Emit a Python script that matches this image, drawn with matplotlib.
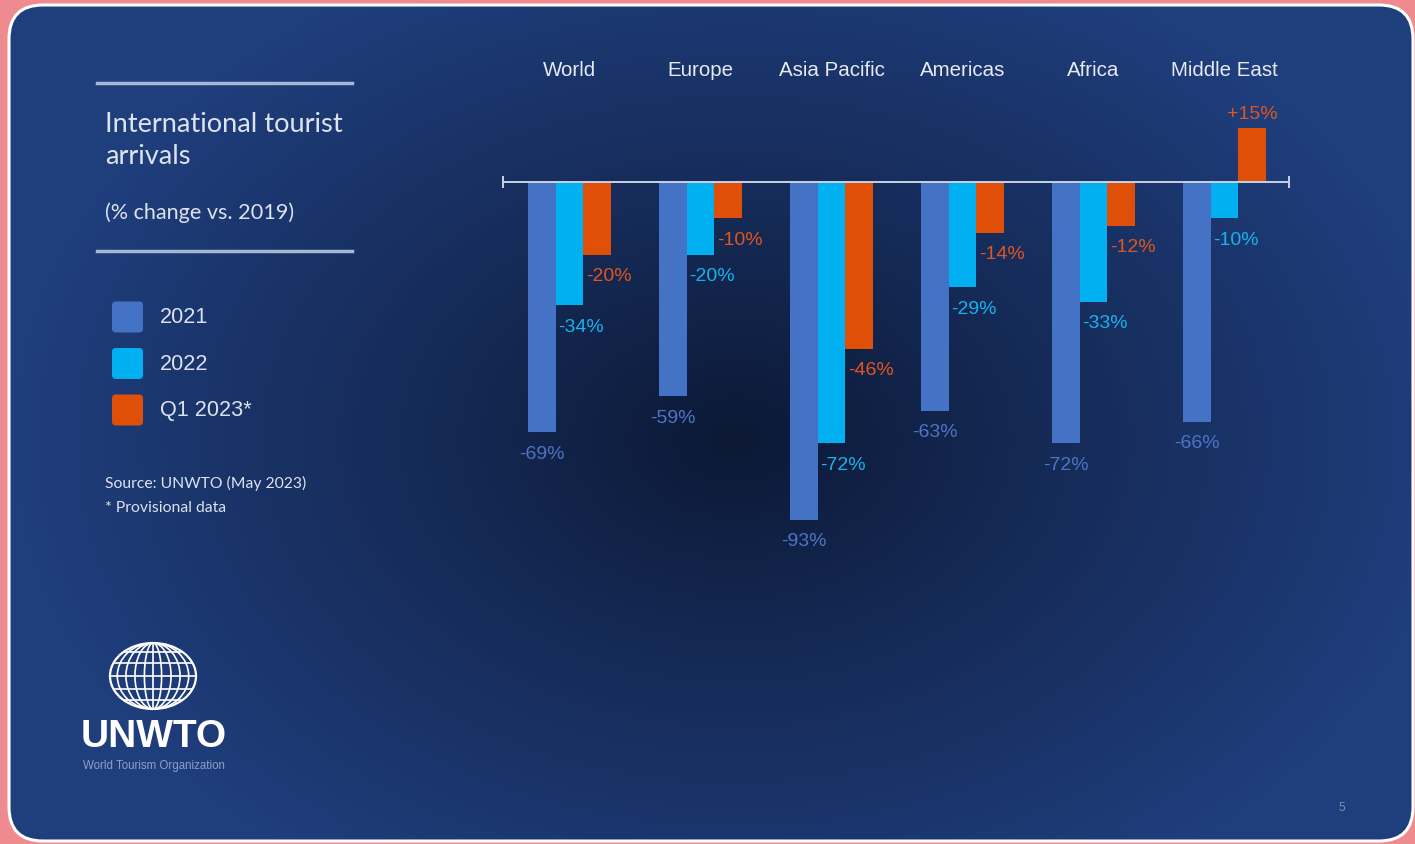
import numpy as np
import matplotlib.pyplot as plt
from matplotlib.patches import FancyBboxPatch, Ellipse
from matplotlib.colors import to_rgb

# Data
regions = ['World', 'Europe', 'Asia Pacific', 'Americas', 'Africa', 'Middle East']
series = ['2021', '2022', 'Q1 2023*']
v2021 = [-69, -59, -93, -63, -72, -66]
v2022 = [-34, -20, -72, -29, -33, -10]
vq1 = [-20, -10, -46, -14, -12, 15]

bar_colors = ['#4472C4', '#00B0F0', '#E04F07']
label_colors = ['#4D74C6', '#19B2EE', '#E0561E']

W, H = 1415, 845
fig = plt.figure(figsize=(W / 100, H / 100), dpi=100)
fig.patch.set_facecolor('#EF8A90')

# background panel in pixel coords
bg = fig.add_axes([0, 0, 1, 1])
bg.set_xlim(0, W)
bg.set_ylim(H, 0)
bg.axis('off')

yy, xx = np.mgrid[0:H, 0:W]
r = np.sqrt(((xx - 735) / 720.0) ** 2 + ((yy - 440) / 520.0) ** 2)
t = np.clip(r, 0, 1) ** 0.9
c0 = np.array(to_rgb('#0C1834'))
c1 = np.array(to_rgb('#1F3E7C'))
img = c0[None, None, :] * (1 - t[..., None]) + c1[None, None, :] * t[..., None]
panel = FancyBboxPatch((9, 6), 1404, 836, boxstyle='round,pad=0,rounding_size=34',
                       facecolor='none', edgecolor='white', lw=2.2, zorder=2)
bg.add_patch(panel)
im = bg.imshow(img, extent=(0, W, H, 0), zorder=1, aspect='auto')
im.set_clip_path(panel)

# left panel text
line_c = '#A7B6D3'
bg.plot([97, 352], [84, 84], color=line_c, lw=2.5, zorder=3)
bg.plot([97, 352], [252, 252], color=line_c, lw=2.5, zorder=3)
txt_c = '#DCE2EE'
bg.text(105, 124, 'International tourist', color=txt_c, fontsize=19.6,
        family='Lato', va='center', ha='left', zorder=3)
bg.text(105, 157, 'arrivals', color=txt_c, fontsize=19.6,
        family='Lato', va='center', ha='left', zorder=3)
bg.text(105, 213, '(% change vs. 2019)', color=txt_c, fontsize=15.6,
        family='Lato', va='center', ha='left', zorder=3)

for i, (name, col) in enumerate(zip(series, bar_colors)):
    y = 318 + i * 46.5
    bg.add_patch(FancyBboxPatch((112, y - 15.5), 31, 31,
                                boxstyle='round,pad=0,rounding_size=4',
                                facecolor=col, edgecolor='none', zorder=3))
    bg.text(160, y, name, color=txt_c, fontsize=15.6, family='Liberation Sans',
            va='center', ha='left', zorder=3)

bg.text(105, 483, 'Source: UNWTO (May 2023)', color=txt_c, fontsize=11.3,
        family='Lato', va='center', ha='left', zorder=3)
bg.text(105, 508, '* Provisional data', color=txt_c, fontsize=11.3,
        family='Lato', va='center', ha='left', zorder=3)

# UNWTO logo
gx, gy, grx, gry = 153, 677, 43, 33
outline = Ellipse((gx, gy), 2 * grx, 2 * gry, facecolor='none', edgecolor='white',
                  lw=1.6, zorder=4)
bg.add_patch(outline)
for k in [0.2, 0.42, 0.63, 0.83]:
    m = Ellipse((gx, gy), 2 * grx * k, 2 * gry, facecolor='none',
                edgecolor='white', lw=1.2, zorder=4)
    bg.add_patch(m)
    m.set_clip_path(outline)
bg.plot([gx, gx], [gy - gry, gy + gry], color='white', lw=1.2, zorder=4)
for f in [-0.72, -0.38, 0, 0.38, 0.72]:
    ln, = bg.plot([gx - grx, gx + grx], [gy + f * gry, gy + f * gry],
                  color='white', lw=1.2, zorder=4)
    ln.set_clip_path(outline)
bg.text(154, 737, 'UNWTO', color='white', fontsize=28, fontweight='bold',
        family='Liberation Sans', ha='center', va='center', zorder=4)
bg.text(83, 766, 'World Tourism Organization', color='#8FA0C4', fontsize=8.3,
        family='Liberation Sans', ha='left', va='center', zorder=4)
bg.text(1342, 808, '5', color='#7F8FB5', fontsize=8.5, family='Liberation Sans',
        ha='center', va='center', zorder=4)

# chart
ax_l, ax_r, ax_t, ax_b = 503, 1289, 30, 600
zero_px, px_per = 183, 3.63
ax = fig.add_axes([ax_l / W, 1 - ax_b / H, (ax_r - ax_l) / W, (ax_b - ax_t) / H])
ax.patch.set_alpha(0)
ax.set_ylim(-(ax_b - zero_px) / px_per, (zero_px - ax_t) / px_per)
x0 = (ax_l - 569.5) / 131.0
x1 = (ax_r - 569.5) / 131.0
ax.set_xlim(x0, x1)

x = np.arange(len(regions))
w = 27.5 / 131.0
dxs = [0, 8, 8.5]
for j, (vals, col, lc) in enumerate(zip([v2021, v2022, vq1], bar_colors, label_colors)):
    xs = x + (j - 1) * w
    ax.bar(xs, vals, width=w, color=col, zorder=2)
    for xi, v in zip(xs, vals):
        if v < 0:
            ax.annotate(f'{v}%', (xi, v), xytext=(dxs[j], -9), textcoords='offset points',
                        ha='center', va='top', color=lc, fontsize=14,
                        family='Liberation Sans')
        else:
            ax.annotate(f'+{v}%', (xi, v), xytext=(0, 4), textcoords='offset points',
                        ha='center', va='bottom', color=lc, fontsize=14,
                        family='Liberation Sans')

for i, name in enumerate(regions):
    ax.text(i, (ax_b - 70) / (ax_b - ax_t), name, transform=ax.get_xaxis_transform(),
            ha='center', va='center', color='#E6EAF2', fontsize=14.8,
            family='Liberation Sans')

for s in ['left', 'right', 'top']:
    ax.spines[s].set_visible(False)
ax.spines['bottom'].set_position(('data', 0))
ax.spines['bottom'].set_color('#C9D2E4')
ax.spines['bottom'].set_linewidth(1.4)
ax.set_yticks([])
ax.set_xticks([x0, x1])
ax.set_xticklabels([])
ax.tick_params(axis='x', direction='inout', length=9, width=1.4, color='#C9D2E4')

fig.savefig('out.png', dpi=100, facecolor=fig.get_facecolor())
